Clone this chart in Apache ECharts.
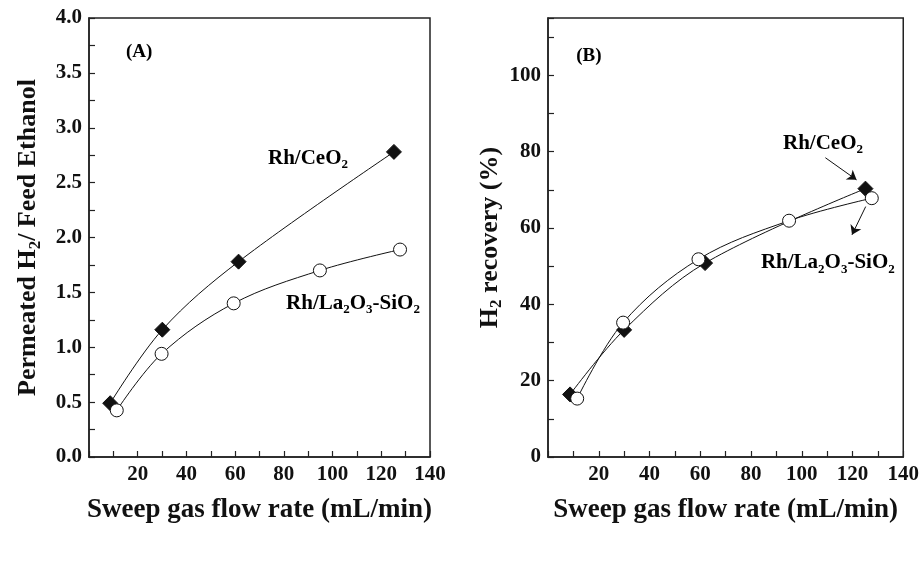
<!DOCTYPE html>
<html>
<head>
<meta charset="utf-8">
<script src="https://cdn.jsdelivr.net/npm/echarts@6/dist/echarts.min.js"></script>
<style>
  html, body { margin: 0; padding: 0; background: #fff; }
  #chart { width: 922px; height: 574px; }
</style>
</head>
<body>
<div id="chart"></div>
<script>
// 数据 - 面板 (A)：渗透H2 / 进料乙醇
const ceO2_A = [[8.7, 0.49], [30.1, 1.16], [61.4, 1.78], [125.2, 2.78]];
const la2O3_A = [[11.4, 0.425], [29.8, 0.94], [59.4, 1.40], [94.8, 1.70], [127.7, 1.89]];

// 数据 - 面板 (B)：H2 回收率 (%)
const ceO2_B = [[8.7, 16.4], [30.0, 33.3], [61.9, 50.8], [125.1, 70.3]];
const la2O3_B = [[11.5, 15.3], [29.6, 35.2], [59.3, 51.8], [95.0, 61.9], [127.6, 67.8]];

// 箭头（B 图中的标注，数据坐标）
const arrowCe = [[109.3, 78.4], [121.6, 72.6]];
const arrowLa = [[125.2, 65.6], [119.8, 58.2]];

const FONT = '"Liberation Serif", "DejaVu Serif", serif';
const INK = '#111';

const richText = {
  m: { fontFamily: FONT, fontWeight: 'bold', fontSize: 21, color: INK },
  s: { fontFamily: FONT, fontWeight: 'bold', fontSize: 13, color: INK, padding: [13, 0, 0, 0] }
};

function xAxisOf(gridIndex) {
  return {
    type: 'value', gridIndex: gridIndex, min: 0, max: 140, interval: 10,
    name: 'Sweep gas flow rate (mL/min)', nameLocation: 'middle', nameGap: 40,
    nameTextStyle: { fontFamily: FONT, fontWeight: 'bold', fontSize: 27, color: INK },
    axisLine: { show: true, onZero: false, lineStyle: { color: '#222', width: 1.5 } },
    axisTick: { show: true, inside: true, length: 6, lineStyle: { color: '#222', width: 1.2 } },
    axisLabel: {
      margin: 7, fontFamily: FONT, fontWeight: 'bold', fontSize: 21, color: INK,
      formatter: v => (v > 0 && v % 20 === 0) ? String(v) : ''
    },
    splitLine: { show: false }
  };
}

function lineSeries(name, data, xi, yi, filled) {
  return {
    name: name, type: 'line', xAxisIndex: xi, yAxisIndex: yi, data: data,
    smooth: 0.35,
    symbol: filled ? 'diamond' : 'circle',
    symbolSize: filled ? 15 : 13,
    showAllSymbol: true,
    lineStyle: { color: INK, width: 1 },
    itemStyle: { color: filled ? INK : '#fff', borderColor: INK, borderWidth: 1 },
    z: filled ? 3 : 4
  };
}

const chart = echarts.init(document.getElementById('chart'), null, { renderer: 'canvas' });

const option = {
  backgroundColor: '#fff',
  animation: false,
  grid: [
    { left: 89, top: 18, width: 341, height: 439, show: true, borderColor: '#222', borderWidth: 1.5, backgroundColor: 'transparent' },
    { left: 548, top: 18, width: 357, height: 439, show: true, borderColor: '#222', borderWidth: 1.5, backgroundColor: 'transparent' }
  ],
  xAxis: [xAxisOf(0), xAxisOf(1)],
  yAxis: [
    {
      type: 'value', gridIndex: 0, min: 0, max: 4, interval: 0.25,
      name: 'Permeated H{s|2}/ Feed Ethanol', nameLocation: 'middle', nameGap: 45,
      nameTextStyle: {
        fontFamily: FONT, fontWeight: 'bold', fontSize: 26, color: INK,
        rich: { s: { fontFamily: FONT, fontWeight: 'bold', fontSize: 17, color: INK, padding: [14, 0, 0, 0] } }
      },
      axisLine: { show: true, onZero: false, lineStyle: { color: '#222', width: 1.5 } },
      axisTick: { show: true, inside: true, length: 6, lineStyle: { color: '#222', width: 1.2 } },
      axisLabel: {
        margin: 7, fontFamily: FONT, fontWeight: 'bold', fontSize: 21, color: INK,
        formatter: v => (Math.abs(v * 2 - Math.round(v * 2)) < 1e-6) ? v.toFixed(1) : ''
      },
      splitLine: { show: false }
    },
    {
      type: 'value', gridIndex: 1, min: 0, max: 115, interval: 10,
      name: 'H{s|2} recovery (%)', nameLocation: 'middle', nameGap: 42,
      nameTextStyle: {
        fontFamily: FONT, fontWeight: 'bold', fontSize: 26, color: INK,
        rich: { s: { fontFamily: FONT, fontWeight: 'bold', fontSize: 17, color: INK, padding: [14, 0, 0, 0] } }
      },
      axisLine: { show: true, onZero: false, lineStyle: { color: '#222', width: 1.5 } },
      axisTick: { show: true, inside: true, length: 6, lineStyle: { color: '#222', width: 1.2 } },
      axisLabel: {
        margin: 7, fontFamily: FONT, fontWeight: 'bold', fontSize: 21, color: INK,
        formatter: v => (v % 20 === 0 && v <= 100) ? String(v) : ''
      },
      splitLine: { show: false }
    }
  ],
  series: [
    lineSeries('Rh/La2O3-SiO2 A', la2O3_A, 0, 0, false),
    lineSeries('Rh/CeO2 A', ceO2_A, 0, 0, true),
    lineSeries('Rh/La2O3-SiO2 B', la2O3_B, 1, 1, false),
    Object.assign(lineSeries('Rh/CeO2 B', ceO2_B, 1, 1, true), {
      markLine: {
        silent: true, animation: false,
        symbol: ['none', 'arrow'], symbolSize: 9,
        lineStyle: { color: INK, width: 1, type: 'solid' },
        label: { show: false },
        data: [
          [{ coord: arrowCe[0] }, { coord: arrowCe[1] }],
          [{ coord: arrowLa[0] }, { coord: arrowLa[1] }]
        ]
      }
    })
  ]
};

chart.setOption(option);

// 标注文字，按数据坐标定位
const notes = [
  { grid: 0, at: [15.2, 3.69], text: '{m|(A)}', size: 19 },
  { grid: 0, at: [73.5, 2.72], text: '{m|Rh/CeO}{s|2}' },
  { grid: 0, at: [80.9, 1.40], text: '{m|Rh/La}{s|2}{m|O}{s|3}{m|-SiO}{s|2}' },
  { grid: 1, at: [11.1, 104.9], text: '{m|(B)}', size: 19 },
  { grid: 1, at: [92.6, 82.1], text: '{m|Rh/CeO}{s|2}' },
  { grid: 1, at: [83.9, 50.8], text: '{m|Rh/La}{s|2}{m|O}{s|3}{m|-SiO}{s|2}' }
];

chart.setOption({
  graphic: notes.map(n => {
    const p = chart.convertToPixel({ gridIndex: n.grid }, n.at);
    const rich = JSON.parse(JSON.stringify(richText));
    if (n.size) rich.m.fontSize = n.size;
    return {
      type: 'text', x: p[0], y: p[1], z: 10,
      style: { text: n.text, rich: rich, align: 'left', verticalAlign: 'middle' }
    };
  })
});
</script>
</body>
</html>
